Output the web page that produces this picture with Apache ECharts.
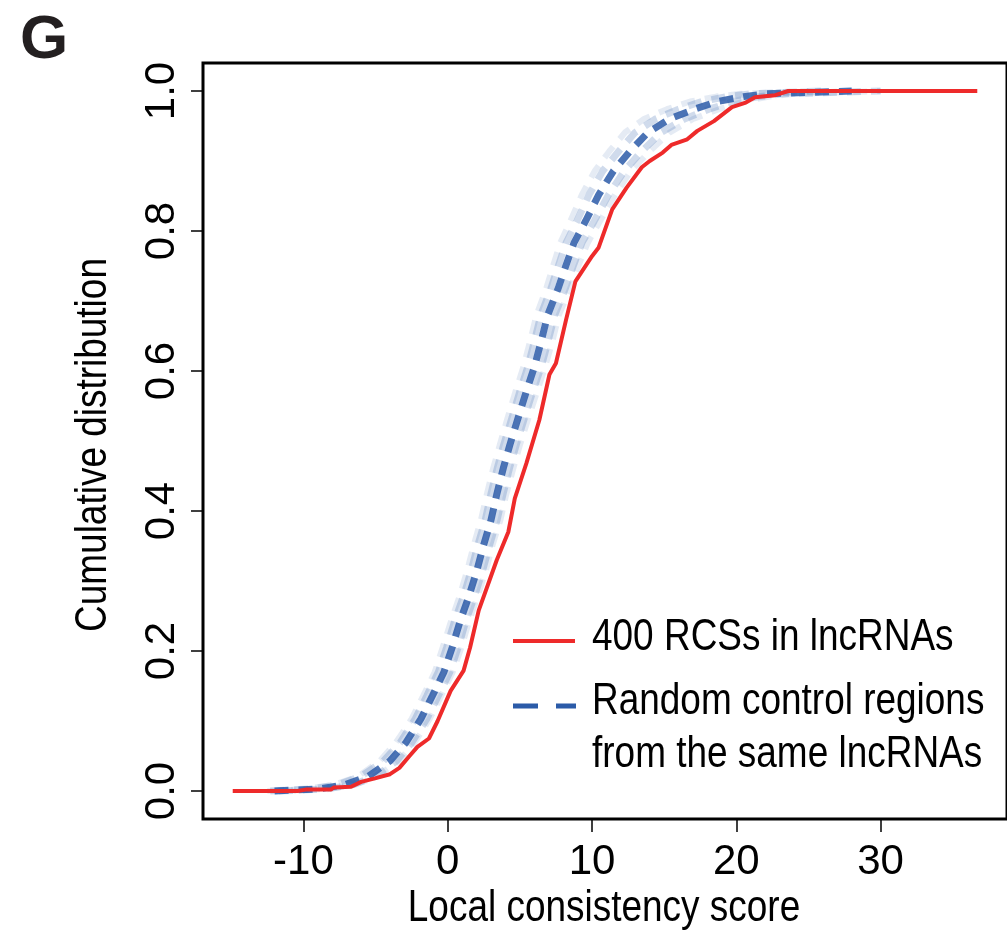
<!DOCTYPE html>
<html>
<head>
<meta charset="utf-8">
<script src="https://cdn.jsdelivr.net/npm/echarts@6/dist/echarts.min.js"></script>
<style>
  html, body { margin: 0; padding: 0; background: #fff; }
  #chart { width: 1007px; height: 932px; }
</style>
</head>
<body>
<div id="chart"></div>
<script>
// tick values
var xTicks = [-10, 0, 10, 20, 30]
var yTicks = [0, 0.2, 0.4, 0.6, 0.8, 1.0]

// 400 RCSs in lncRNAs (score, cumulative fraction)
var redX = [-14.9, -10.4, -9.85, -8.1, -7.9, -6.7, -6.0, -5.05, -4.0, -3.35, -2.65, -2.1, -1.3, -0.7, 0.2, 1.1, 1.55,
  2.15, 3.4, 4.2, 4.65, 5.45, 6.35, 7.05, 7.5, 8.2, 8.85, 10.0, 10.45, 11.4, 12.4, 13.45, 14.0, 14.9, 15.5, 16.6,
  17.3, 18.45, 19.7, 20.6, 21.3, 22.7, 23.6, 36.7]
var redY = [0, 0, 0.002, 0.002, 0.005, 0.006, 0.013, 0.018, 0.024, 0.033, 0.05, 0.063, 0.075, 0.1, 0.143, 0.172, 0.205,
  0.258, 0.33, 0.37, 0.418, 0.468, 0.53, 0.595, 0.611, 0.673, 0.728, 0.764, 0.776, 0.831, 0.862, 0.891, 0.9, 0.912, 0.923, 0.931,
  0.943, 0.957, 0.977, 0.983, 0.991, 0.994, 1.0, 1.0]

// random control regions: band of many dashed curves (outer edges, inner edges, middle)
var blueY = [0, 0.003, 0.009, 0.021, 0.043, 0.069, 0.103, 0.136, 0.17, 0.205, 0.244, 0.277, 0.315, 0.351, 0.387, 0.423,
  0.461, 0.494, 0.533, 0.571, 0.606, 0.642, 0.68, 0.716, 0.75, 0.783, 0.814, 0.852, 0.886, 0.914, 0.941, 0.96, 0.974,
  0.985, 0.992, 0.996, 1.0]
var blueMidX = [-12.0, -8.9, -7.1, -5.5, -4.0, -2.9, -1.86, -1.06, -0.26, 0.31, 0.88, 1.45, 2.02, 2.48, 3.0, 3.39,
  3.85, 4.3, 4.88, 5.45, 6.01, 6.47, 6.93, 7.62, 8.18, 8.75, 9.55, 10.47, 11.49, 12.64, 13.89, 15.38, 17.09,
  18.69, 20.51, 22.11, 28]
var blueLeftX = [-12.3, -9.4, -7.6, -6.0, -4.45, -3.3, -2.25, -1.45, -0.65, -0.08, 0.5, 1.07, 1.63, 2.08, 2.6, 2.98,
  3.43, 3.87, 4.45, 5.0, 5.55, 6.0, 6.45, 7.12, 7.66, 8.2, 8.95, 9.8, 10.75, 11.85, 13.0, 14.4, 16.0,
  17.6, 19.4, 21.0, 26]
var blueRightX = [-11.7, -8.4, -6.6, -5.0, -3.55, -2.5, -1.45, -0.65, 0.15, 0.72, 1.27, 1.84, 2.42, 2.9, 3.42, 3.82,
  4.28, 4.74, 5.32, 5.9, 6.48, 6.95, 7.42, 8.12, 8.7, 9.3, 10.15, 11.15, 12.25, 13.45, 14.8, 16.4, 18.1,
  19.8, 21.6, 23.2, 30]
var blueOuterLeftX = [-12.5, -9.8, -7.9, -6.2, -4.7, -3.6, -2.5, -1.7, -0.9, -0.35, 0.25, 0.8, 1.35, 1.8, 2.3, 2.7,
  3.15, 3.6, 4.15, 4.7, 5.25, 5.7, 6.15, 6.8, 7.3, 7.8, 8.5, 9.3, 10.2, 11.2, 12.3, 13.6, 15.2,
  16.8, 18.6, 20.3, 25]
var blueOuterRightX = [-11.5, -8.2, -6.4, -4.9, -3.4, -2.3, -1.25, -0.45, 0.35, 0.95, 1.5, 2.05, 2.65, 3.1, 3.65, 4.05,
  4.55, 5.0, 5.6, 6.2, 6.75, 7.25, 7.7, 8.45, 9.05, 9.7, 10.55, 11.6, 12.7, 14.0, 15.4, 17.0, 18.8,
  20.5, 22.3, 24.0, 30]

var labels = ['400 RCSs in lncRNAs', 'Random control regions', 'from the same lncRNAs']
var xTitle = 'Local consistency score'
var yTitle = 'Cumulative distribution'

var font = '"Liberation Sans", Arial, sans-serif'
var red = '#ee2a2a'
var blue = '#2b5ba8'
var estreito = 0.84 // the original lettering is condensed

function pares(xs, ys) {
  return xs.map(function (x, i) { return [x, ys[i]] })
}

function blueSerie(xs, opac, larg) {
  return {
    type: 'line',
    data: pares(xs, blueY),
    showSymbol: false,
    silent: true,
    lineStyle: { color: blue, width: larg, type: [14, 10], cap: 'butt', opacity: opac },
    z: 2
  }
}

function texto(txt, x, y, extra) {
  var el = {
    type: 'text', x: x, y: y, scaleX: estreito,
    style: { text: txt, fontSize: 44, fontFamily: font, fill: '#000', verticalAlign: 'middle' }
  }
  if (extra) Object.assign(el.style, extra.style || {})
  if (extra && extra.rotation) el.rotation = extra.rotation
  return el
}

var chartDom = document.getElementById('chart')
var myChart = echarts.init(chartDom, null, { renderer: 'canvas' })

var option = {
  animation: false,
  grid: {
    left: 203, top: 63, width: 812, height: 756,
    show: true, borderColor: '#000', borderWidth: 3, backgroundColor: 'transparent'
  },
  xAxis: {
    type: 'value', min: -16.96, max: 38.76,
    axisLine: { show: false, onZero: false },
    splitLine: { show: false },
    axisTick: { show: true, customValues: xTicks, length: 13, lineStyle: { color: '#000', width: 1.5 } },
    axisLabel: { customValues: xTicks, fontSize: 42, fontFamily: font, color: '#000', margin: 22 }
  },
  yAxis: {
    type: 'value', min: -0.04, max: 1.04,
    axisLine: { show: false, onZero: false },
    splitLine: { show: false },
    axisTick: { show: true, customValues: yTicks, length: 12, lineStyle: { color: '#000', width: 1.5 } },
    axisLabel: {
      customValues: yTicks, rotate: 90, fontSize: 42, fontFamily: font, color: '#000', margin: 20,
      formatter: function (v) { return v.toFixed(1) }
    }
  },
  series: [
    blueSerie(blueOuterLeftX, 0.12, 6),
    blueSerie(blueOuterRightX, 0.12, 6),
    blueSerie(blueLeftX, 0.22, 7),
    blueSerie(blueRightX, 0.22, 7),
    blueSerie(blueMidX, 0.85, 7),
    {
      type: 'line',
      data: pares(redX, redY),
      showSymbol: false,
      silent: true,
      lineStyle: { color: red, width: 4 },
      z: 3
    }
  ],
  graphic: [
    { type: 'text', left: 20, top: 10, style: { text: 'G', fontSize: 62, fontWeight: 'bold', fontFamily: font, fill: '#231f20' } },
    texto(xTitle, 604, 909, { style: { align: 'center' } }),
    texto(yTitle, 94, 445, { style: { align: 'center' }, rotation: Math.PI / 2 }),
    { type: 'line', shape: { x1: 513, y1: 641, x2: 575, y2: 641 }, style: { stroke: red, lineWidth: 4 } },
    { type: 'line', shape: { x1: 513, y1: 706, x2: 576, y2: 706 }, style: { stroke: blue, lineWidth: 5, lineDash: [25, 18] } },
    texto(labels[0], 592, 638),
    texto(labels[1], 592, 702),
    texto(labels[2], 592, 755)
  ]
}

option && myChart.setOption(option)
</script>
</body>
</html>
